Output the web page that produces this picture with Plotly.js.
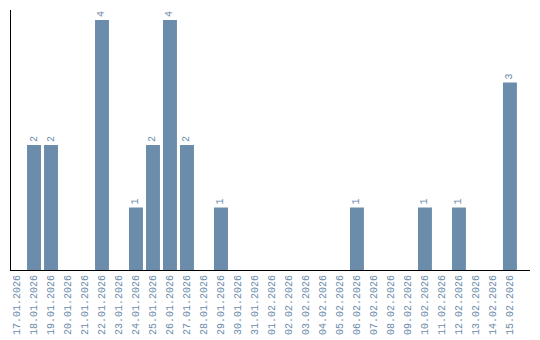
<!DOCTYPE html>
<html>
<head>
<meta charset="utf-8">
<script src="https://cdn.plot.ly/plotly-3.0.1.min.js"></script>
<style>html,body{margin:0;padding:0;background:#fff;}#chart{width:540px;height:340px;}</style>
</head>
<body>
<div id="chart"></div>
<script>
var dates = ["17.01.2026","18.01.2026","19.01.2026","20.01.2026","21.01.2026","22.01.2026","23.01.2026","24.01.2026","25.01.2026","26.01.2026","27.01.2026","28.01.2026","29.01.2026","30.01.2026","31.01.2026","01.02.2026","02.02.2026","03.02.2026","04.02.2026","05.02.2026","06.02.2026","07.02.2026","08.02.2026","09.02.2026","10.02.2026","11.02.2026","12.02.2026","13.02.2026","14.02.2026","15.02.2026"];
var counts = [0,2,2,0,0,4,0,1,2,4,2,0,1,0,0,0,0,0,0,0,1,0,0,0,1,0,1,0,0,3];
var labels = counts.map(function(v){ return v > 0 ? String(v) : ""; });

var barColor = "#6b8cab";
var textColor = "#6a8aab";
var font = "Liberation Mono, monospace";

var trace = {
  type: "bar",
  x: dates,
  y: counts,
  text: labels,
  textposition: "outside",
  textangle: -90,
  cliponaxis: false,
  textfont: {family: font, size: 10, color: textColor},
  marker: {color: barColor},
  hoverinfo: "none"
};

var layout = {
  width: 540, height: 340,
  margin: {l: 11, r: 10, t: 10, b: 70},
  paper_bgcolor: "#fff", plot_bgcolor: "#fff",
  showlegend: false,
  bargap: 0.18,
  font: {family: font, size: 10, color: textColor},
  xaxis: {
    type: "category",
    range: [-0.353, 30.18],
    showline: true, linecolor: "#000", linewidth: 1,
    showgrid: false, zeroline: false,
    ticks: "", tickangle: -90,
    tickfont: {family: font, size: 10, color: textColor},
    fixedrange: true
  },
  yaxis: {
    range: [0, 4.16],
    showline: true, linecolor: "#000", linewidth: 1,
    showgrid: false, zeroline: false,
    showticklabels: false, ticks: "",
    fixedrange: true
  }
};

Plotly.newPlot("chart", [trace], layout, {displayModeBar: false, staticPlot: true});
</script>
</body>
</html>
